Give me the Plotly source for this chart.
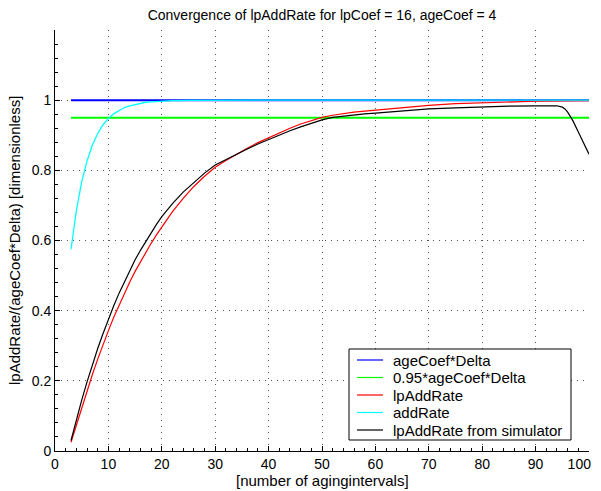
import plotly.graph_objects as go

title_text = "Convergence of lpAddRate for lpCoef = 16, ageCoef = 4"
x_title = "[number of agingintervals]"
y_title = "lpAddRate/(ageCoef*Delta) [dimensionless]"

series_names = ["ageCoef*Delta", "0.95*ageCoef*Delta", "lpAddRate", "addRate",
                "lpAddRate from simulator"]
series_colors = ["#0000FF", "#00FF00", "#FF0000", "#00FFFF", "#000000"]
series_widths = [2.0, 2.0, 1.2, 1.3, 1.2]

x_ref = [3, 100]
age_delta = [1.0, 1.0]
age_delta95 = [0.95, 0.95]

x_rate = [3, 4, 5, 6, 7, 8, 9, 10, 11, 12, 13, 14, 15, 16, 17, 18, 19, 20,
          22, 24, 26, 28, 30, 32, 34, 36, 38, 40, 42, 44, 46, 48, 50, 52, 54,
          56, 58, 60, 65, 70, 75, 80, 85, 90, 95, 100]
lp_add_rate = [0.025, 0.075, 0.125, 0.172, 0.218, 0.262, 0.304, 0.343, 0.381,
               0.416, 0.45, 0.482, 0.512, 0.54, 0.567, 0.592, 0.616, 0.639,
               0.682, 0.72, 0.754, 0.783, 0.809, 0.828, 0.846, 0.863, 0.879,
               0.893, 0.907, 0.920, 0.932, 0.942, 0.951, 0.957, 0.962, 0.966,
               0.969, 0.972, 0.979, 0.985, 0.990, 0.993, 0.995, 0.997, 0.998,
               0.9986]

x_add = [3, 4, 5, 6, 7, 8, 9, 10, 11, 12, 13, 14, 15, 16, 17, 18, 20, 22, 25,
         30, 40, 60, 80, 100]
add_rate = [0.575, 0.685, 0.767, 0.827, 0.872, 0.905, 0.93, 0.948, 0.961,
            0.971, 0.979, 0.984, 0.988, 0.991, 0.994, 0.995, 0.997, 0.9986,
            0.9994, 1.0, 1.0, 1.0, 1.0, 1.0]

x_sim = [3, 4, 5, 6, 7, 8, 9, 10, 11, 12, 13, 14, 15, 16, 17, 18, 19, 20,
         22, 24, 26, 28, 30, 32, 34, 36, 38, 40, 42, 44, 46, 48, 50, 52, 54,
         56, 58, 60, 65, 70, 75, 80, 85, 90, 94, 95, 95.5, 96, 97, 98, 99, 100]
lp_sim = [0.03, 0.089, 0.145, 0.197, 0.246, 0.292, 0.335, 0.376, 0.414, 0.45,
          0.483, 0.515, 0.545, 0.572, 0.598, 0.623, 0.646, 0.668, 0.705,
          0.738, 0.766, 0.792, 0.815, 0.831, 0.846, 0.861, 0.875, 0.888,
          0.901, 0.913, 0.924, 0.934, 0.944, 0.951, 0.955, 0.958, 0.961,
          0.963, 0.970, 0.975, 0.978, 0.981, 0.983, 0.984, 0.984, 0.980,
          0.975, 0.966, 0.941, 0.909, 0.877, 0.846]

x_ticks = [0, 10, 20, 30, 40, 50, 60, 70, 80, 90, 100]
x_tick_labels = ["0", "10", "20", "30", "40", "50", "60", "70", "80", "90", "100"]
y_ticks = [0, 0.2, 0.4, 0.6, 0.8, 1.0]
y_tick_labels = ["0", "0.2", "0.4", "0.6", "0.8", "1"]

font_family = "Liberation Sans, Arial, sans-serif"

xs = [x_ref, x_ref, x_rate, x_add, x_sim]
ys = [age_delta, age_delta95, lp_add_rate, add_rate, lp_sim]

fig = go.Figure()
for xv, yv, nm, col, w in zip(xs, ys, series_names, series_colors, series_widths):
    fig.add_trace(go.Scatter(x=xv, y=yv, mode="lines", name=nm,
                             line=dict(color=col, width=w), showlegend=False))

# The page body has an 8px margin, so the figure starts at screen (8, 8).
OFF = 8
FW, FH = 601, 491
# plot area in screen pixels: x 55..589, y 30..451
L, R, T, B = 55, 589, 30, 451
W, H = R - L, B - T


def px_x(p):
    return (p - L) / W


def px_y(p):
    return (B - p) / H


# keep the last x label fully inside the visible window
x_text = x_tick_labels[:-1] + [x_tick_labels[-1] + "\u00a0" * 5]

shapes = [dict(type="rect", xref="paper", yref="paper",
               x0=px_x(349), x1=px_x(571), y0=px_y(440), y1=px_y(349),
               line=dict(color="black", width=1), fillcolor="white",
               layer="above")]
annotations = []
row_y = [360, 377.5, 395, 412.5, 430]
for nm, col, ry in zip(series_names, series_colors, row_y):
    shapes.append(dict(type="line", xref="paper", yref="paper",
                       x0=px_x(357), x1=px_x(383), y0=px_y(ry), y1=px_y(ry),
                       line=dict(color=col, width=1.2), layer="above"))
    annotations.append(dict(text=nm, xref="paper", yref="paper",
                            x=px_x(391), y=px_y(ry), xanchor="left",
                            yanchor="middle", showarrow=False,
                            font=dict(size=15, family=font_family, color="black")))

annotations.append(dict(text=x_title, xref="paper", yref="paper", x=0.5,
                        y=px_y(480), xanchor="center", yanchor="middle",
                        showarrow=False,
                        font=dict(size=15, family=font_family, color="black")))
annotations.append(dict(text=y_title, xref="paper", yref="paper", x=px_x(14),
                        y=px_y(241), xanchor="center", yanchor="middle",
                        textangle=-90, showarrow=False,
                        font=dict(size=15, family=font_family, color="black")))

fig.update_layout(
    width=FW, height=FH,
    margin=dict(l=L - OFF, r=FW - (R - OFF), t=T - OFF, b=FH - (B - OFF),
                autoexpand=False),
    paper_bgcolor="white", plot_bgcolor="white",
    font=dict(family=font_family, size=14, color="black"),
    title=dict(text=title_text, x=(322 - OFF) / FW, xanchor="center",
               xref="container", y=1 - (15 - OFF) / FH, yanchor="middle",
               font=dict(size=14, family=font_family)),
    showlegend=False,
    shapes=shapes,
    annotations=annotations,
    xaxis=dict(range=[0, 100], tickvals=x_ticks, ticktext=x_text,
               ticks="inside", ticklen=5,
               tickcolor="black", showline=True, linecolor="black", linewidth=1,
               mirror=False, zeroline=False, automargin=False,
               ticklabeloverflow="allow",
               showgrid=True, gridcolor="#555555", griddash="1px,5px", gridwidth=1,
               tickfont=dict(size=14),
               minor=dict(dtick=2, ticks="inside", ticklen=3, tickcolor="black",
                          showgrid=False)),
    yaxis=dict(range=[0, 1.2], tickvals=y_ticks, ticktext=y_tick_labels,
               ticks="inside", ticklen=5, tickcolor="black",
               showline=True, linecolor="black", linewidth=1, mirror=False,
               zeroline=False, automargin=False,
               showgrid=True, gridcolor="#555555", griddash="1px,5px", gridwidth=1,
               tickfont=dict(size=14),
               minor=dict(dtick=0.04, ticks="inside", ticklen=3, tickcolor="black",
                          showgrid=False)),
)

fig.write_html("out.html")
